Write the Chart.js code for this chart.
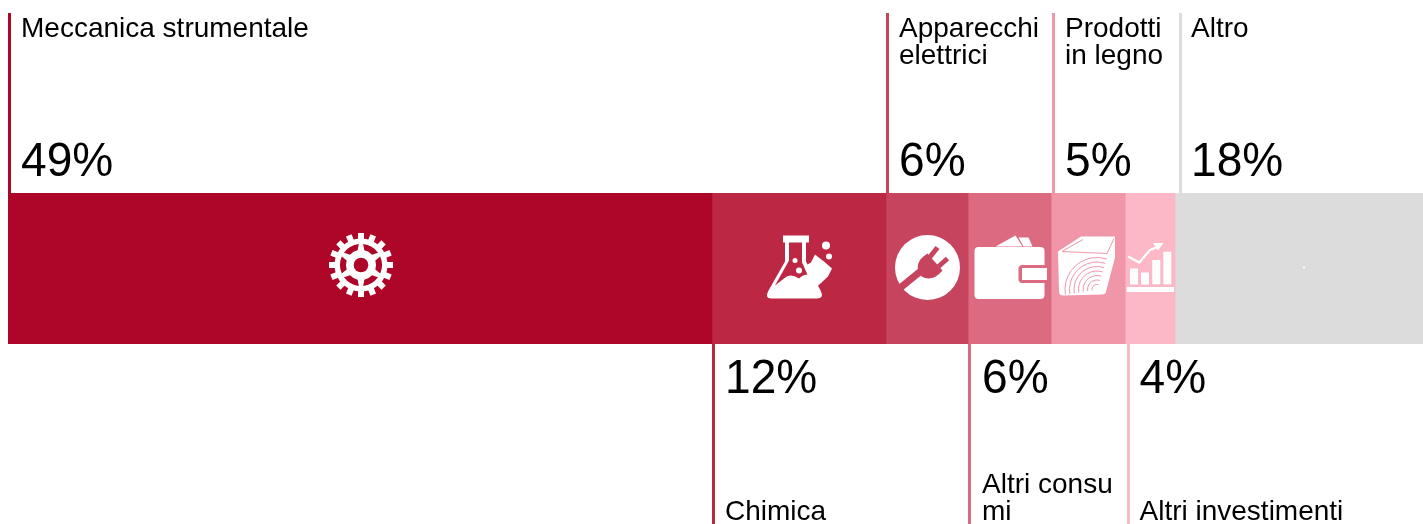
<!DOCTYPE html>
<html>
<head>
<meta charset="utf-8">
<title>Settori</title>
<script src="https://cdn.jsdelivr.net/npm/chart.js@4"></script>
<style>
    html, body { margin: 0; padding: 0; background: #fff; overflow: hidden; }
    #wrap { position: relative; width: 1423px; height: 524px; }
</style>
</head>
<body>
<div id="wrap"><canvas id="chart"></canvas></div>
<script>
const categories = ["Meccanica strumentale", "Chimica", "Apparecchi elettrici", "Altri consumi", "Prodotti in legno", "Altri investimenti", "Altro"]
const categoryLines = [["Meccanica strumentale"], ["Chimica"], ["Apparecchi", "elettrici"], ["Altri consu", "mi"], ["Prodotti", "in legno"], ["Altri investimenti"], ["Altro"]]
const shareValues = [49.75, 12.3, 5.8, 5.87, 5.23, 3.53, 17.52]
const percentLabels = ["49%", "12%", "6%", "6%", "5%", "4%", "18%"]
const sliceColors = ["#ae0629", "#bc2744", "#c7445f", "#dc6a80", "#f096a8", "#fcb8c7", "#dcdcdc"]

const FONT = '"Liberation Sans", Arial, sans-serif'
const LABEL_FONT = "28px " + FONT
const PERCENT_FONT = "48px " + FONT
const PERCENT_SQUEEZE = 0.96
const LINE_HEIGHT = 27
const TICK_WIDTH = 3
const TICK_NUDGE = [0, 0, 0, 0, 1, 2, 4]
const TEXT_GAP = [13, 13, 13, 14, 13, 12.5, 12]

// icons are traced in a local box, centered on their slice
function drawGear(ctx, bg) {
    const teeth = 16
    ctx.fillStyle = "#fff"
    for (let i = 0; i < teeth; i++) {
        ctx.save()
        ctx.rotate(i * Math.PI * 2 / teeth)
        ctx.fillRect(-3, -32, 6, 8)
        ctx.restore()
    }
    ctx.beginPath()
    ctx.arc(0, 0, 26.5, 0, Math.PI * 2)
    ctx.fill()
    ctx.fillStyle = bg
    for (let i = 0; i < 6; i++) {
        const a = i * Math.PI / 3
        ctx.beginPath()
        ctx.arc(0, 0, 21, a - 0.42, a + 0.42)
        ctx.arc(0, 0, 15, a + 0.3, a - 0.3, true)
        ctx.closePath()
        ctx.fill()
    }
    ctx.beginPath()
    ctx.arc(0, 0, 7.3, 0, Math.PI * 2)
    ctx.fill()
}

function drawFlask(ctx, bg) {
    ctx.fillStyle = "#fff"
    const body = new Path2D("M-17 -32 L9 -32 L9 -25 L6 -25 L6 -6 L21 24 Q24 31 17 31 L-29 31 Q-35 31 -32 24 L-15 -6 L-15 -25 L-17 -25 Z")
    ctx.fill(body)
    ctx.fillStyle = bg
    const inside = new Path2D("M-11 -25 L2 -25 L2 -5 L8 7 Q3 7 -1 11 Q-10 5 -16 11 L-25 18 L-11 -7 Z")
    ctx.fill(inside)
    ctx.fillStyle = "#fff"
    const splash = new Path2D("M4 -1 L11 -5 L15 -13 L20 -9 L24 -6 L32 1 L28 9 L14 22 Z")
    ctx.fill(splash)
    for (const [x, y, r] of [[-5, -7, 2.5], [-1, 3, 3]]) {
        ctx.beginPath()
        ctx.arc(x, y, r, 0, Math.PI * 2)
        ctx.fill()
    }
    for (const [x, y, r] of [[26, -22, 4], [29, -11, 3]]) {
        ctx.beginPath()
        ctx.arc(x, y, r, 0, Math.PI * 2)
        ctx.fill()
    }
}

function drawPlug(ctx, bg) {
    ctx.fillStyle = "#fff"
    ctx.beginPath()
    ctx.arc(0, 0, 32.5, 0, Math.PI * 2)
    ctx.fill()
    ctx.strokeStyle = bg
    ctx.lineWidth = 7
    ctx.beginPath()
    ctx.moveTo(-33, 25)
    ctx.lineTo(-6, 3)
    ctx.stroke()
    ctx.fillStyle = bg
    ctx.beginPath()
    ctx.moveTo(0, -14)
    ctx.lineTo(15, 3)
    ctx.quadraticCurveTo(5, 15, -6, 9)
    ctx.quadraticCurveTo(-16, -4, 0, -14)
    ctx.fill()
    ctx.lineWidth = 5
    ctx.beginPath()
    ctx.moveTo(2, -10)
    ctx.lineTo(10, -20)
    ctx.moveTo(11, -1)
    ctx.lineTo(20, -9)
    ctx.stroke()
}

function drawWallet(ctx, bg) {
    ctx.fillStyle = "#fff"
    ctx.beginPath()
    ctx.roundRect(-36, -21.5, 70, 52, 4)
    ctx.fill()
    ctx.beginPath()
    ctx.moveTo(-15, -22)
    ctx.lineTo(5, -33)
    ctx.lineTo(12, -22)
    ctx.closePath()
    ctx.fill()
    ctx.beginPath()
    ctx.moveTo(8, -31)
    ctx.lineTo(18, -31)
    ctx.lineTo(22, -22)
    ctx.lineTo(13, -22)
    ctx.closePath()
    ctx.fill()
    ctx.fillStyle = bg
    ctx.beginPath()
    ctx.roundRect(8, -3.5, 29, 18, 4)
    ctx.fill()
    ctx.fillStyle = "#fff"
    ctx.fillRect(11.5, -0.5, 25, 12)
}

function drawWood(ctx, bg) {
    const cube = new Path2D("M-30 -17 L-7 -32 L27 -32 L27 -11 L18 23 Q18 26 14 26 L-25 27 Q-29 27 -29 23 Z")
    ctx.fillStyle = "#fff"
    ctx.fill(cube)
    ctx.save()
    ctx.clip(cube)
    ctx.strokeStyle = bg
    ctx.lineWidth = 1
    for (let r = 5; r < 34; r += 4.5) {
        ctx.beginPath()
        ctx.arc(9, 21, r, Math.PI * 0.95, Math.PI * 1.6)
        ctx.stroke()
    }
    ctx.restore()
    ctx.strokeStyle = bg
    ctx.lineWidth = 1
    ctx.beginPath()
    ctx.moveTo(-26, -17)
    ctx.lineTo(-5, -29)
    ctx.moveTo(-26, -17)
    ctx.lineTo(19, -15)
    ctx.lineTo(26, -30)
    ctx.stroke()
}

function drawBarsIcon(ctx, bg) {
    ctx.fillStyle = "#fff"
    for (const [x, y, h] of [[-20, 0, 16], [-9, 4, 12], [2.3, -8.5, 24.3], [13.3, -16.8, 32.6]]) {
        ctx.fillRect(x, y, 8, h)
    }
    ctx.fillRect(-23.3, 18.5, 47.3, 5)
    ctx.strokeStyle = "#fff"
    ctx.lineWidth = 2.2
    ctx.beginPath()
    ctx.moveTo(-22, -12)
    ctx.lineTo(-10.7, -6)
    ctx.lineTo(0, -18.5)
    ctx.lineTo(9, -22)
    ctx.stroke()
    ctx.fillStyle = "#fff"
    ctx.beginPath()
    ctx.moveTo(3, -25.5)
    ctx.lineTo(13.5, -25.5)
    ctx.lineTo(8, -18)
    ctx.fill()
}

function drawDot(ctx) {
    ctx.filter = "none"
    ctx.fillStyle = "#fff"
    ctx.fillRect(4, -2, 2, 2)
}

const iconDrawers = [drawGear, drawFlask, drawPlug, drawWallet, drawWood, drawBarsIcon, drawDot]
const iconOffsets = [[1, -3.5], [1, -1], [0.5, -1], [1, 0], [0, 0], [0, 0], [0, 0]]

const sliceLabelsPlugin = {
    id: "sliceLabels",
    afterDatasetsDraw(chart) {
        const ctx = chart.ctx
        const area = chart.chartArea
        const bottom = chart.height
        ctx.save()
        shareValues.forEach((value, i) => {
            const bar = chart.getDatasetMeta(i).data[0]
            const left = Math.round(bar.base)
            const right = Math.round(bar.x)
            const tickX = left + TICK_NUDGE[i]
            const textX = tickX + TEXT_GAP[i]
            const up = i % 2 === 0

            ctx.fillStyle = sliceColors[i]
            if (up) {
                ctx.fillRect(tickX, 13, TICK_WIDTH, area.top - 13)
            } else {
                ctx.fillRect(tickX, area.bottom, TICK_WIDTH, bottom - area.bottom)
            }

            ctx.fillStyle = "#000"
            ctx.textBaseline = "alphabetic"
            ctx.textAlign = "left"
            ctx.save()
            ctx.translate(textX, up ? area.top - 17 : area.bottom + 49)
            ctx.scale(PERCENT_SQUEEZE, 1)
            ctx.font = PERCENT_FONT
            ctx.fillText(percentLabels[i], 0, 0)
            ctx.restore()
            ctx.font = LABEL_FONT
            const lines = categoryLines[i]
            lines.forEach((line, n) => {
                const y = up ? 37 + n * LINE_HEIGHT : bottom - 4 - (lines.length - 1 - n) * LINE_HEIGHT
                ctx.fillText(line, textX, y)
            })

            ctx.save()
            ctx.translate((left + right) / 2 + iconOffsets[i][0], (area.top + area.bottom) / 2 + iconOffsets[i][1])
            ctx.filter = "blur(0.6px)"
            iconDrawers[i](ctx, sliceColors[i])
            ctx.restore()
        })
        ctx.restore()
    }
}

const datasets = categories.map((name, i) => ({
    label: name,
    data: [shareValues[i]],
    backgroundColor: sliceColors[i],
    borderWidth: 0,
    barPercentage: 1,
    categoryPercentage: 1
}))

new Chart(document.getElementById("chart").getContext("2d"), {
    type: "bar",
    data: { labels: ["Export"], datasets: datasets },
    plugins: [sliceLabelsPlugin],
    options: {
        indexAxis: "y",
        animation: false,
        responsive: true,
        maintainAspectRatio: false,
        layout: { padding: { left: 8, right: 0, top: 193, bottom: 180 } },
        plugins: { legend: { display: false }, tooltip: { enabled: false } },
        scales: {
            x: { stacked: true, min: 0, max: 100, display: false },
            y: { stacked: true, display: false }
        }
    }
})
</script>
</body>
</html>
